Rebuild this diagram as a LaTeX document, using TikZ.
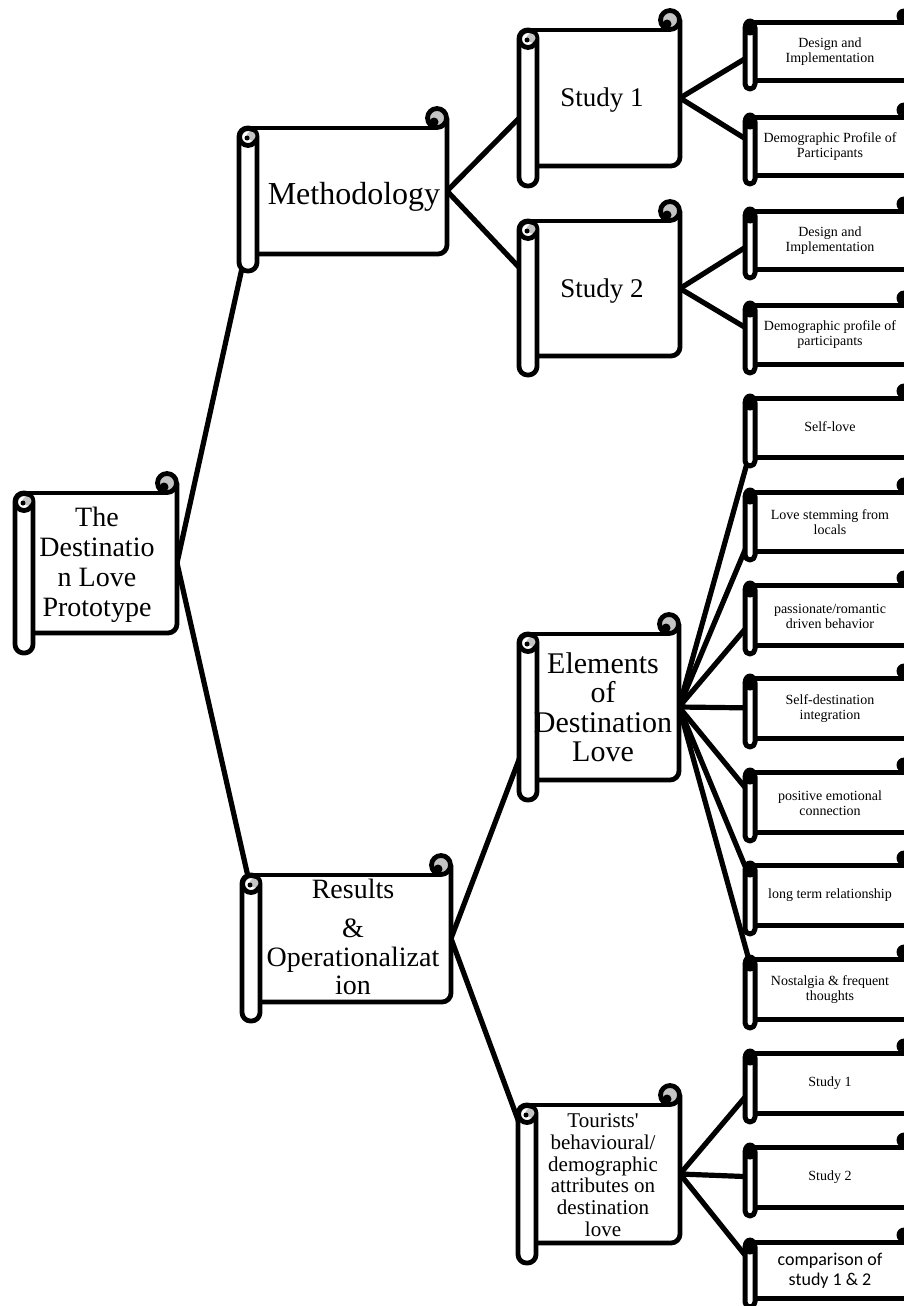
\documentclass[tikz,border=0pt]{standalone}
\usepackage{fontspec}
\setmainfont{Liberation Serif}
\newfontfamily\carlito{Carlito}
\newfontfamily\plainserif{Liberation Serif}[Ligatures=TeXOff]
\pgfdeclarelayer{links}
\pgfdeclarelayer{paper}
\pgfsetlayers{links,paper,main}
\definecolor{curlgrey}{RGB}{196,196,196}
\tikzset{
  outline/.style={draw=black, line width=4.8pt, line join=round},
  leafline/.style={draw=black, line width=5pt, line join=round},
  link/.style={draw=black, line width=5.2pt, line cap=round},
  anchorbox/.style={inner sep=0pt, outer sep=0pt, draw=none},
  txt/.style={align=center, inner sep=0pt},
  roottext/.style={txt, font=\fontsize{28}{30}\selectfont},
  methtext/.style={txt, font=\fontsize{32}{34}\selectfont},
  studytext/.style={txt, font=\fontsize{27}{29}\selectfont},
  elemtext/.style={txt, font=\fontsize{30}{29.5}\selectfont},
  restext/.style={txt, font=\fontsize{28}{28.5}\selectfont},
  tourtext/.style={txt, font=\fontsize{21}{21.7}\selectfont},
  leaftext/.style={txt, font=\fontsize{14}{15}\selectfont},
  cmptext/.style={txt, font=\carlito\fontsize{18}{20}\selectfont},
}
% large scroll: name, left, top, right, bottom, bottom of roll
\newcommand\bigscroll[6]{%
  \begin{pgfonlayer}{paper}
    \fill[white] ({#2+11},{#3}) rectangle ({#4},{#5});
    \draw[outline] ({#2+11},{#3}) -- ({#4-10},{#3});
    \draw[outline, rounded corners=9pt] ({#4},{#3-10}) -- ({#4},{#5}) -- ({#2+11},{#5});
    \filldraw[outline, fill=curlgrey] ({#4-10},{#3-10}) circle[radius=9.5];
    \fill[black] ({#4-13},{#3-6}) circle[radius=4.5];
    \filldraw[outline, fill=white, rounded corners=8.5pt] ({#2+2},{#3}) rectangle ({#2+20},{#6});
    \filldraw[outline, fill=white] ({#2+11},{#3+9}) circle[radius=8.5];
    \fill[curlgrey] ({#2+14},{#3+8}) circle[radius=4.5];
    \fill[black] ({#2+10},{#3+10}) circle[radius=2.5];
  \end{pgfonlayer}
  \node[anchorbox, minimum width={(#4-#2-22)*1pt}, minimum height={(#5-#3)*1pt}]
    (#1) at ({(#2+22+#4)/2},{(#3+#5)/2}) {};
}
% narrow scroll at the right margin: name, top, bottom
\newcommand\leafscroll[3]{%
  \begin{pgfonlayer}{paper}
    \fill[white] (750,{#2}) rectangle (915,{#3});
    \draw[leafline] (750,{#2}) -- (915,{#2});
    \draw[leafline] (750,{#3}) -- (915,{#3});
    \fill[black] (904,{#2-7}) circle[radius=7.5];
    \filldraw[leafline, fill=white, rounded corners=5pt] (745,{#2}) rectangle (755,{#3+9});
    \fill[black] (750,{#2+4}) ellipse[x radius=7.2, y radius=8.5];
  \end{pgfonlayer}
  \node[anchorbox, minimum width=150pt, minimum height={(#3-#2)*1pt}]
    (#1) at (832,{(#2+#3)/2}) {};
}
\begin{document}
\begin{tikzpicture}[x=1pt, y=-1pt]
  \begin{pgfonlayer}{links}
    \fill[white] (0,0) rectangle (904,1306);
  \end{pgfonlayer}
  \useasboundingbox (0,0) rectangle (904,1306);

  % main scrolls
  \bigscroll{root}{13}{493}{177}{633}{653}
  \bigscroll{meth}{237}{128}{447}{254}{271}
  \bigscroll{sone}{517}{30}{680}{166}{186}
  \bigscroll{stwo}{517}{221}{680}{356}{375}
  \bigscroll{elem}{517}{634}{679}{780}{800}
  \bigscroll{res}{240}{875}{451}{1002}{1021}
  \bigscroll{tour}{516}{1105}{680}{1243}{1263}

  % leaf scrolls
  \leafscroll{la}{23}{80}
  \leafscroll{lb}{117}{175}
  \leafscroll{lc}{211}{269}
  \leafscroll{ld}{305}{364}
  \leafscroll{le}{398}{457}
  \leafscroll{lf}{492}{551}
  \leafscroll{lg}{585}{645}
  \leafscroll{lh}{678}{738}
  \leafscroll{li}{772}{832}
  \leafscroll{lj}{865}{925}
  \leafscroll{lk}{959}{1019}
  \leafscroll{ll}{1053}{1113}
  \leafscroll{lm}{1147}{1207}
  \leafscroll{ln}{1242}{1298}

  % texts
  \node[roottext] (roott) at (97,565) {The\\Destinatio\\n Love\\Prototype};
  \node[methtext] (metht) at (354,197) {Methodology};
  \node[studytext] (sonet) at (602,100) {Study 1};
  \node[studytext] (stwot) at (602,291) {Study 2};
  \node[elemtext] (elemt) at (603,707) {Elements\\of\\Destination\\Love};
  \node[restext] (rest) at (353,937) {Results\\[11pt]\&\\Operationalizat\\ion};
  \node[tourtext] (tourt) at (603,1175) {Tourists{\plainserif'}\\behavioural/\\demographic\\attributes on\\destination\\love};

  \node[leaftext] (lat) at (830,52) {Design and\\Implementation};
  \node[leaftext] (lbt) at (830,147) {Demographic Profile of\\Participants};
  \node[leaftext] (lct) at (830,241) {Design and\\Implementation};
  \node[leaftext] (ldt) at (830,335) {Demographic profile of\\participants};
  \node[leaftext] (let) at (830,427) {Self-love};
  \node[leaftext] (lft) at (830,522) {Love stemming from\\locals};
  \node[leaftext] (lgt) at (830,616) {passionate/romantic\\driven behavior};
  \node[leaftext] (lht) at (830,709) {Self-destination\\integration};
  \node[leaftext] (lit) at (830,803) {positive emotional\\connection};
  \node[leaftext] (ljt) at (830,895) {long term relationship};
  \node[leaftext] (lkt) at (830,990) {Nostalgia \& frequent\\thoughts};
  \node[leaftext] (llt) at (830,1083) {Study 1};
  \node[leaftext] (lmt) at (830,1177) {Study 2};
  \node[cmptext] (lnt) at (830,1271) {comparison of\\study 1 \& 2};

  % connectors
  \begin{pgfonlayer}{links}
    \draw[link] (root.east) -- (meth.west);
    \draw[link] (root.east) -- (res.west);
    \draw[link] (meth.east) -- (sone.west);
    \draw[link] (meth.east) -- (stwo.west);
    \draw[link] (sone.east) -- (la.west);
    \draw[link] (sone.east) -- (lb.west);
    \draw[link] (stwo.east) -- (lc.west);
    \draw[link] (stwo.east) -- (ld.west);
    \draw[link] (res.east) -- (elem.west);
    \draw[link] (res.east) -- (tour.west);
    \foreach \leaf in {le,lf,lg,lh,li,lj,lk}
      \draw[link] (elem.east) -- (\leaf.west);
    \foreach \leaf in {ll,lm,ln}
      \draw[link] (tour.east) -- (\leaf.west);
  \end{pgfonlayer}
\end{tikzpicture}
\end{document}
